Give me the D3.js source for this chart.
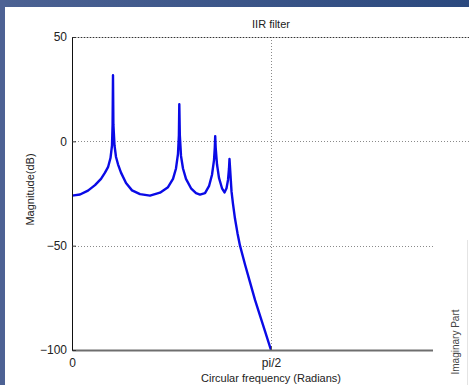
<!DOCTYPE html>
<html>
<head>
<meta charset="utf-8">
<script src="https://cdn.jsdelivr.net/npm/d3@7"></script>
<style>
    html, body { margin: 0; padding: 0; background: #fff; }
    svg { display: block; font-family: "Liberation Sans", Arial, sans-serif; }
</style>
</head>
<body>
<div id="chart"></div>
<script>
// IIR filter magnitude response
// frequency in units of pi rad/sample, magnitude in dB
const freq = [
    0, 0.0201, 0.0402, 0.0578, 0.0729, 0.0829, 0.0905, 0.0967, 0.1005, 0.102,
    0.103, 0.104, 0.1068, 0.1106, 0.1156, 0.1231, 0.1357, 0.1508, 0.1709, 0.196,
    0.2211, 0.2412, 0.2538, 0.2613, 0.2663, 0.2686, 0.2696, 0.2709, 0.2739, 0.2789,
    0.2864, 0.299, 0.3116, 0.3216, 0.3342, 0.3442, 0.3518, 0.3568, 0.3588, 0.3598,
    0.361, 0.3643, 0.3693, 0.3769, 0.3832, 0.3882, 0.392, 0.3945, 0.3957, 0.3975,
    0.4008, 0.4045, 0.4095, 0.4158, 0.4221, 0.4347, 0.4472, 0.4598, 0.4724, 0.4849,
    0.5
];
const magDb = [
    -26, -25.5, -23.6, -21, -18, -15, -12.4, -8, -2, 8,
    31.7, 8, -2, -7.5, -11, -15, -20, -23.5, -25.3, -26,
    -24.6, -22, -18, -13, -6, 3, 17.8, 3, -7, -13,
    -18, -22.5, -24.8, -25.5, -24.8, -21.5, -16, -9, -3, 2.5,
    -3, -11, -17.5, -22.5, -24.5, -22.5, -18.5, -13, -8.5, -14,
    -24, -30, -37, -44, -50, -59, -67.5, -76, -83.5, -91,
    -100
];

// the pi tick sits past the window edge, so only these two show
const xTickValues = [0, 0.5];
const xTickLabels = ['0', 'pi/2'];
const yTickValues = [-100, -50, 0, 50];
const xGrid = [0.5];
const yGrid = [0, -50, 50];

const width = 469, height = 385;
// margin [top, bottom, left, right]
const margin = [37, 35, 72, -1];

const svg = d3.select('#chart')
    .append('svg')
    .attr('width', width)
    .attr('height', height);

// blue window frame
const defs = svg.append('defs');
const grad = defs.append('linearGradient')
    .attr('id', 'frame')
    .attr('x1', 0).attr('x2', 1).attr('y1', 0).attr('y2', 0);
grad.append('stop').attr('offset', 0).attr('stop-color', '#4c6293');
grad.append('stop').attr('offset', 1).attr('stop-color', '#2b497e');

svg.append('rect').attr('width', width).attr('height', height).attr('fill', '#fff');
svg.append('rect').attr('width', width).attr('height', 7).attr('fill', 'url(#frame)');
svg.append('rect').attr('width', 5).attr('height', height).attr('fill', '#4d6294');

const plotW = width - margin[2] - margin[3];
const plotH = height - margin[0] - margin[1];

const x = d3.scaleLinear().domain([0, 1]).range([margin[2], margin[2] + plotW]);
const y = d3.scaleLinear().domain([-100, 50]).range([margin[0] + plotH, margin[0]]);

defs.append('clipPath').attr('id', 'plot')
    .append('rect')
    .attr('x', x(0)).attr('y', y(50))
    .attr('width', plotW).attr('height', plotH);

// grid lines
const grid = svg.append('g');
grid.append('line')
    .attr('x1', x(0)).attr('x2', width)
    .attr('y1', y(50) + 0.5).attr('y2', y(50) + 0.5)
    .attr('stroke', '#bbb');
grid.selectAll('line.h')
    .data(yGrid)
    .join('line')
    .attr('class', 'h')
    .attr('x1', x(0)).attr('x2', width)
    .attr('y1', d => Math.round(y(d)) + 0.5)
    .attr('y2', d => Math.round(y(d)) + 0.5)
    .attr('stroke', d => d === 50 ? '#333' : '#8a8a8a')
    .attr('stroke-dasharray', '1,2');
grid.selectAll('line.v')
    .data(xGrid)
    .join('line')
    .attr('class', 'v')
    .attr('x1', d => Math.round(x(d)) + 0.5)
    .attr('x2', d => Math.round(x(d)) + 0.5)
    .attr('y1', y(50)).attr('y2', y(-100))
    .attr('stroke', '#8a8a8a')
    .attr('stroke-dasharray', '1,2');

// response curve
const data = freq.map((f, i) => ({ f: f, v: magDb[i] }));
const line = d3.line()
    .x(d => x(d.f))
    .y(d => y(d.v));

svg.append('path')
    .datum(data)
    .attr('clip-path', 'url(#plot)')
    .attr('fill', 'none')
    .attr('stroke', '#0a0ae6')
    .attr('stroke-width', 2.4)
    .attr('stroke-linejoin', 'round')
    .attr('d', line);

// axes, ticks point inward like matlab
const xAxis = d3.axisBottom(x)
    .tickValues(xTickValues)
    .tickFormat((d, i) => xTickLabels[i])
    .tickSizeInner(-4)
    .tickSizeOuter(0)
    .tickPadding(8);
const yAxis = d3.axisLeft(y)
    .tickValues(yTickValues)
    .tickSizeInner(-4)
    .tickSizeOuter(0)
    .tickPadding(5);

const gx = svg.append('g')
    .attr('transform', `translate(0, ${y(-100)})`)
    .call(xAxis);
gx.select('.domain').attr('stroke', '#6e6e6e').attr('stroke-width', 2);
gx.selectAll('text').attr('font-size', 12).attr('fill', '#222');
gx.selectAll('line').attr('stroke', '#555');

const gy = svg.append('g')
    .attr('transform', `translate(${x(0)}, 0)`)
    .call(yAxis);
gy.select('.domain').attr('stroke', '#111');
gy.selectAll('text').attr('font-size', 12).attr('fill', '#222');
gy.selectAll('line').attr('stroke', '#333');

// titles
svg.append('text')
    .attr('x', x(0.5)).attr('y', 28)
    .attr('text-anchor', 'middle')
    .attr('font-size', 11).attr('fill', '#222')
    .text('IIR filter');

svg.append('text')
    .attr('x', x(0.5)).attr('y', 382)
    .attr('text-anchor', 'middle')
    .attr('font-size', 11).attr('fill', '#222')
    .text('Circular frequency (Radians)');

svg.append('text')
    .attr('transform', `translate(34, ${(y(50) + y(-100)) / 2 - 4}) rotate(-90)`)
    .attr('text-anchor', 'middle')
    .attr('font-size', 11).attr('fill', '#222')
    .text('Magnitude(dB)');

// neighbouring subplot covers the lower right corner
svg.append('rect')
    .attr('x', 433).attr('y', 200)
    .attr('width', width - 433).attr('height', height - 200)
    .attr('fill', '#fff');
svg.append('line')
    .attr('x1', 467.5).attr('x2', 467.5)
    .attr('y1', 240).attr('y2', height)
    .attr('stroke', '#e4e4e4');
svg.append('text')
    .attr('transform', 'translate(459, 342) rotate(-90)')
    .attr('text-anchor', 'middle')
    .attr('font-size', 10).attr('fill', '#444')
    .text('Imaginary Part');
</script>
</body>
</html>
